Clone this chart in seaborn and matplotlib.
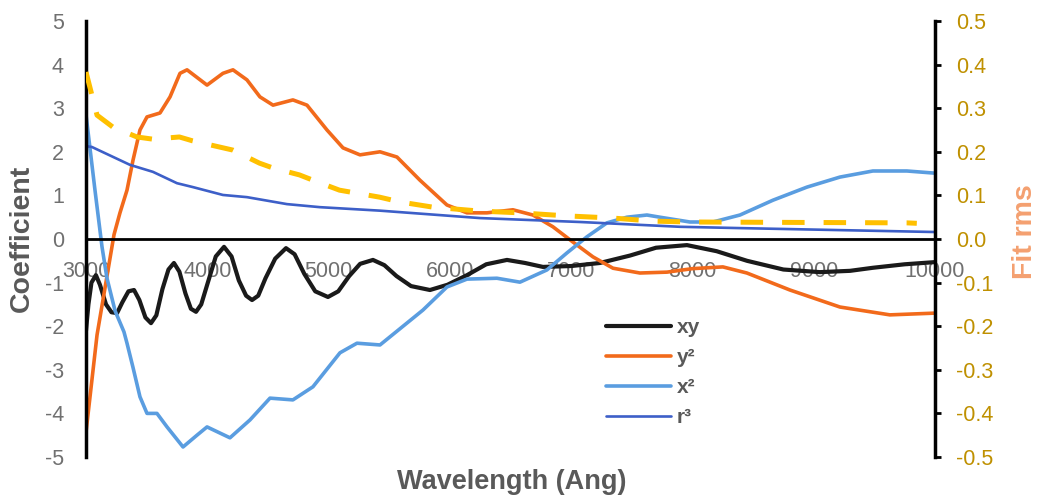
import numpy as np
import pandas as pd
import matplotlib
matplotlib.use("Agg")
import matplotlib.pyplot as plt
import seaborn as sns

# wavelength (Ang) / coefficient readings for each term
xy_wl = [3000, 3020, 3045, 3082, 3115, 3165, 3210, 3256, 3300, 3350, 3396, 3440,
         3490, 3536, 3580, 3630, 3680, 3725, 3770, 3820, 3865, 3907, 3950, 4010,
         4070, 4138, 4200, 4260, 4320, 4369, 4420, 4480, 4560, 4649, 4720, 4800,
         4890, 4995, 5080, 5170, 5260, 5366, 5460, 5560, 5680, 5836, 5980, 6141,
         6300, 6471, 6620, 6767, 7000, 7237, 7485, 7700, 7955, 8200, 8450, 8750,
         9051, 9300, 9488, 9750, 10000]
xy_val = [-2.1, -1.5, -1.0, -0.83, -1.05, -1.5, -1.68, -1.7, -1.45, -1.2, -1.17, -1.4,
          -1.8, -1.93, -1.75, -1.15, -0.7, -0.55, -0.75, -1.25, -1.6, -1.67, -1.5, -0.95,
          -0.4, -0.18, -0.4, -0.95, -1.3, -1.4, -1.3, -0.9, -0.45, -0.21, -0.35, -0.8,
          -1.2, -1.33, -1.2, -0.85, -0.57, -0.48, -0.6, -0.85, -1.08, -1.17, -1.05, -0.83,
          -0.58, -0.48, -0.55, -0.64, -0.62, -0.55, -0.38, -0.2, -0.14, -0.28, -0.5, -0.7,
          -0.76, -0.73, -0.66, -0.58, -0.53]

y2_wl = [3000, 3091, 3231, 3280, 3338, 3387, 3445, 3503, 3610, 3693, 3775, 3833,
         3998, 4129, 4212, 4327, 4434, 4542, 4706, 4822, 4987, 5119, 5259, 5424,
         5564, 5753, 5976, 6141, 6306, 6520, 6685, 6850, 7015, 7180, 7345, 7567,
         7790, 8000, 8251, 8449, 8804, 9216, 9628, 10000]
y2_val = [-4.43, -2.2, 0.1, 0.6, 1.12, 1.8, 2.5, 2.8, 2.89, 3.26, 3.8, 3.88,
          3.53, 3.8, 3.88, 3.65, 3.26, 3.07, 3.19, 3.07, 2.5, 2.09, 1.93, 2.0,
          1.88, 1.35, 0.78, 0.6, 0.6, 0.67, 0.55, 0.28, -0.07, -0.41, -0.67, -0.78,
          -0.76, -0.68, -0.64, -0.78, -1.17, -1.56, -1.74, -1.7]

x2_wl = [3000, 3074, 3132, 3173, 3240, 3313, 3338, 3387, 3445, 3503, 3585, 3668,
         3800, 3915, 3998, 4187, 4352, 4517, 4706, 4871, 5094, 5234, 5424, 5778,
         5976, 6141, 6388, 6578, 6800, 6965, 7130, 7295, 7460, 7625, 7732, 7979,
         8169, 8392, 8664, 8944, 9216, 9488, 9768, 10000]
x2_val = [2.85, 1.12, -0.18, -0.9, -1.65, -2.13, -2.39, -2.94, -3.62, -4.0, -4.0, -4.31,
          -4.77, -4.5, -4.31, -4.56, -4.15, -3.65, -3.69, -3.39, -2.61, -2.39, -2.43, -1.63,
          -1.1, -0.92, -0.9, -0.99, -0.71, -0.32, 0.05, 0.37, 0.5, 0.55, 0.5, 0.39,
          0.39, 0.55, 0.89, 1.19, 1.42, 1.56, 1.56, 1.51]

r3_wl = [3000, 3049, 3363, 3552, 3750, 3882, 4129, 4327, 4657, 4929, 5424, 6248,
         7073, 7897, 8392, 10000]
r3_val = [2.13, 2.11, 1.7, 1.54, 1.28, 1.19, 1.01, 0.96, 0.8, 0.73, 0.65, 0.48,
          0.39, 0.28, 0.25, 0.16]

# fit rms (right axis)
rms_wl = [3000, 3091, 3220, 3420, 3550, 3770, 3880, 4100, 4210, 4430, 4540, 4760,
          4870, 5090, 5420, 5589, 5861, 6248, 6578, 6965, 7345, 7674, 7979, 9768, 9850]
rms_val = [0.383, 0.284, 0.257, 0.234, 0.229, 0.234, 0.225, 0.211, 0.204, 0.174, 0.163, 0.147,
           0.135, 0.112, 0.096, 0.085, 0.073, 0.064, 0.06, 0.053, 0.048, 0.041, 0.039, 0.037, 0.036]

x_ticks = [3000, 4000, 5000, 6000, 7000, 8000, 9000, 10000]
left_ticks = [-5, -4, -3, -2, -1, 0, 1, 2, 3, 4, 5]
right_ticks = [-0.5, -0.4, -0.3, -0.2, -0.1, 0.0, 0.1, 0.2, 0.3, 0.4, 0.5]

sns.set_style("white")
plt.rcParams['font.family'] = ['Liberation Sans', 'DejaVu Sans']
plt.rcParams['axes.unicode_minus'] = False

GREY = '#707070'
DARKGREY = '#595959'

fig = plt.figure(figsize=(10.39, 4.97), dpi=100)
ax = fig.add_axes([86/1039, 1-457/497, (935-86)/1039, (457-21)/497])
ax2 = ax.twinx()

line_kw = dict(sort=False, solid_joinstyle='round', solid_capstyle='round')
sns.lineplot(x=xy_wl, y=xy_val, ax=ax, color='#1a1a1a', lw=3.0, label='xy', **line_kw)
sns.lineplot(x=y2_wl, y=y2_val, ax=ax, color='#f26a1b', lw=2.6, label='y²', **line_kw)
sns.lineplot(x=x2_wl, y=x2_val, ax=ax, color='#5a9de0', lw=2.6, label='x²', **line_kw)
sns.lineplot(x=r3_wl, y=r3_val, ax=ax, color='#3d5fc8', lw=1.9, label='r³', **line_kw)

sns.lineplot(x=rms_wl, y=rms_val, ax=ax2, color='#ffc000', lw=3.6, sort=False)
ax2.lines[0].set_dashes([4.5, 3.8])

ax.set_xlim(3000, 10000)
ax.set_ylim(-5, 5)
ax2.set_ylim(-0.5, 0.5)

ax.set_xticks(x_ticks)
ax.set_xticklabels([str(t) for t in x_ticks])
ax.set_yticks(left_ticks)
ax.set_yticklabels([str(t) for t in left_ticks])
ax2.set_yticks(right_ticks)
ax2.set_yticklabels(['%.1f' % t for t in right_ticks])

for s in ['top', 'right']:
    ax.spines[s].set_visible(False)
ax.spines['bottom'].set_position(('data', 0))
ax.spines['bottom'].set_color('black')
ax.spines['bottom'].set_linewidth(2.0)
ax.spines['left'].set_color('black')
ax.spines['left'].set_linewidth(2.5)

for s in ['top', 'left', 'bottom']:
    ax2.spines[s].set_visible(False)
ax2.spines['right'].set_color('black')
ax2.spines['right'].set_linewidth(2.5)

ax.tick_params(axis='x', length=0, pad=16, labelsize=15.5, labelcolor=GREY)
ax.tick_params(axis='y', length=0, pad=16, labelsize=15.5, labelcolor=GREY)
ax2.tick_params(axis='y', length=4, width=2, direction='out', pad=11,
                labelsize=15.5, labelcolor='#bf9000', color='black')

ax.set_xlabel('')
ax.set_ylabel('')
ax2.set_ylabel('')

fig.text(22/1039, 1-238/497, 'Coefficient', rotation=90, ha='center', va='center',
         fontsize=20.5, fontweight='bold', color=DARKGREY)
fig.text(512/1039, 1-482/497, 'Wavelength (Ang)', ha='center', va='center',
         fontsize=19.5, fontweight='bold', color=DARKGREY)
fig.text(1025/1039, 1-232/497, 'Fit rms', rotation=90, ha='center', va='center',
         fontsize=20.5, fontweight='bold', color='#f4a070')

leg = ax.legend(loc='upper left', bbox_to_anchor=((606-86)/849, (457-318)/436),
                frameon=False, fontsize=15, handlelength=3.1, handletextpad=0.3,
                labelspacing=0.53, borderpad=0, borderaxespad=0)
for t in leg.get_texts():
    t.set_color(DARKGREY)
    t.set_fontweight('bold')

fig.savefig('out.png', dpi=100)
